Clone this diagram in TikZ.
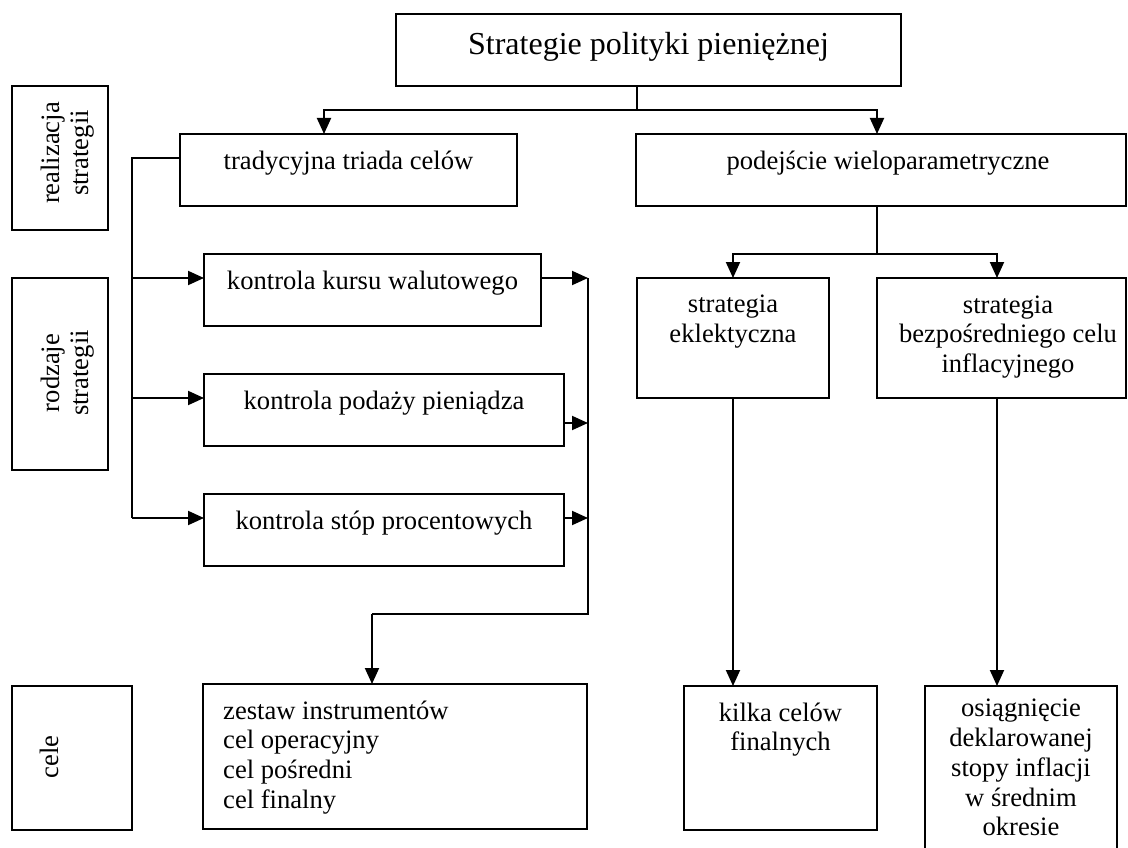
\documentclass[tikz,border=0pt]{standalone}
\usepackage{fontspec}
\setmainfont{Liberation Serif}
\usetikzlibrary{arrows.meta}
\newcommand\fsz{\fontsize{26.6}{29.8}\selectfont}
\newcommand\ftitle{\fontsize{32}{36}\selectfont}
\begin{document}
\begin{tikzpicture}[x=1pt,y=-1pt,
  box/.style={draw, line width=1.9pt, inner sep=0pt, outer sep=0pt},
  lbl/.style={inner sep=0pt, anchor=base, font=\fsz},
  mlbl/.style={inner sep=0pt, anchor=north, align=center, font=\fsz},
  conn/.style={line width=1.9pt},
  arr/.style={line width=1.9pt, -{Triangle[length=16pt,width=14pt]}}]
\useasboundingbox (0,0) rectangle (1128,848);
\clip (0,0) rectangle (1128,848);
% boxes
\node[box, minimum width=505pt, minimum height=72pt] (top) at (648.5,50) {};
\node[box, minimum width=337pt, minimum height=72pt] (triada) at (348.5,170) {};
\node[box, minimum width=490pt, minimum height=72pt] (podej) at (881,170) {};
\node[box, minimum width=96pt, minimum height=144pt] (real) at (60,158) {};
\node[box, minimum width=96pt, minimum height=192pt] (rodz) at (60,374) {};
\node[box, minimum width=120pt, minimum height=144pt] (cele) at (72,758) {};
\node[box, minimum width=337pt, minimum height=72pt] (kurs) at (372.5,290) {};
\node[box, minimum width=360pt, minimum height=72pt] (podaz) at (384,410) {};
\node[box, minimum width=360pt, minimum height=72pt] (stop) at (384,530) {};
\node[box, minimum width=192pt, minimum height=120pt] (eklek) at (733,338) {};
\node[box, minimum width=249pt, minimum height=120pt] (bezp) at (1001.5,338) {};
\node[box, minimum width=384pt, minimum height=145pt] (zestaw) at (395,756.5) {};
\node[box, minimum width=193pt, minimum height=144pt] (kilka) at (780.5,758) {};
\node[box, minimum width=192pt, minimum height=184pt] (osiag) at (1021,778) {};
% texts
\node[lbl, font=\ftitle] (topT) at (648.5,55) {Strategie polityki pieniężnej};
\node[lbl] (triadaT) at (348.5,170) {tradycyjna triada celów};
\node[lbl] (podejT) at (888,170) {podejście wieloparametryczne};
\node[lbl] (kursT) at (372.5,289) {kontrola kursu walutowego};
\node[lbl] (podazT) at (384,409.5) {kontrola podaży pieniądza};
\node[lbl] (stopT) at (384,529) {kontrola stóp procentowych};
\node[mlbl] (eklekT) at (733,291.8) {\strut strategia\\eklektyczna};
\node[mlbl] (bezpT) at (1008,292.1) {\strut strategia\\bezpośredniego celu\\inflacyjnego};
\node[mlbl] (kilkaT) at (780.5,700.1) {\strut kilka celów\\finalnych};
\node[mlbl] (osiagT) at (1021,695.6) {\strut osiągnięcie\\deklarowanej\\stopy inflacji\\w średnim\\okresie};
\node[mlbl, anchor=north west, align=left] (zestawT) at (223,698.1) {\strut zestaw instrumentów\\cel operacyjny\\cel pośredni\\cel finalny};
\node[mlbl, rotate=90] (realT) at (38,153) {\strut realizacja\\strategii};
\node[mlbl, rotate=90] (rodzT) at (38,373) {\strut rodzaje\\strategii};
\node[mlbl, rotate=90] (celeT) at (37,757) {\strut cele};
% junction coordinates
\coordinate (j1) at (637,110);
\coordinate (tl) at (324,110);
\coordinate (tr) at (877,110);
\coordinate (j2) at (877,254);
\coordinate (bx) at (997,254);
\coordinate (r0) at (132,158);
\coordinate (ra) at (132,278);
\coordinate (rb) at (132,398);
\coordinate (rc) at (132,518);
\coordinate (sa) at (588,278);
\coordinate (sb) at (588,423);
\coordinate (sc) at (588,518);
\coordinate (sd) at (588,614);
\coordinate (se) at (372,614);
% connectors
\draw[conn] (top.south -| j1) -- (j1);
\draw[arr] (j1) -- (tl) -- (triada.north -| tl);
\draw[arr] (j1) -- (tr) -- (podej.north -| tr);
\draw[conn] (podej.south -| j2) -- (j2);
\draw[arr] (j2) -| (eklek.north);
\draw[arr] (j2) -- (bx) -- (bezp.north -| bx);
\draw[arr] (eklek.south) -- (kilka.north -| eklek.south);
\draw[arr] (bezp.south -| bx) -- (osiag.north -| bx);
\draw[conn] (triada.west |- r0) -- (r0) -- (rc);
\draw[arr] (ra) -- (ra -| kurs.west);
\draw[arr] (rb) -- (rb -| podaz.west);
\draw[arr] (rc) -- (rc -| stop.west);
\draw[arr] (sa -| kurs.east) -- (sa);
\draw[arr] (sb -| podaz.east) -- (sb);
\draw[arr] (sc -| stop.east) -- (sc);
\draw[conn] (sa) -- (sd) -- (se);
\draw[arr] (se) -- (zestaw.north -| se);
\end{tikzpicture}
\end{document}
